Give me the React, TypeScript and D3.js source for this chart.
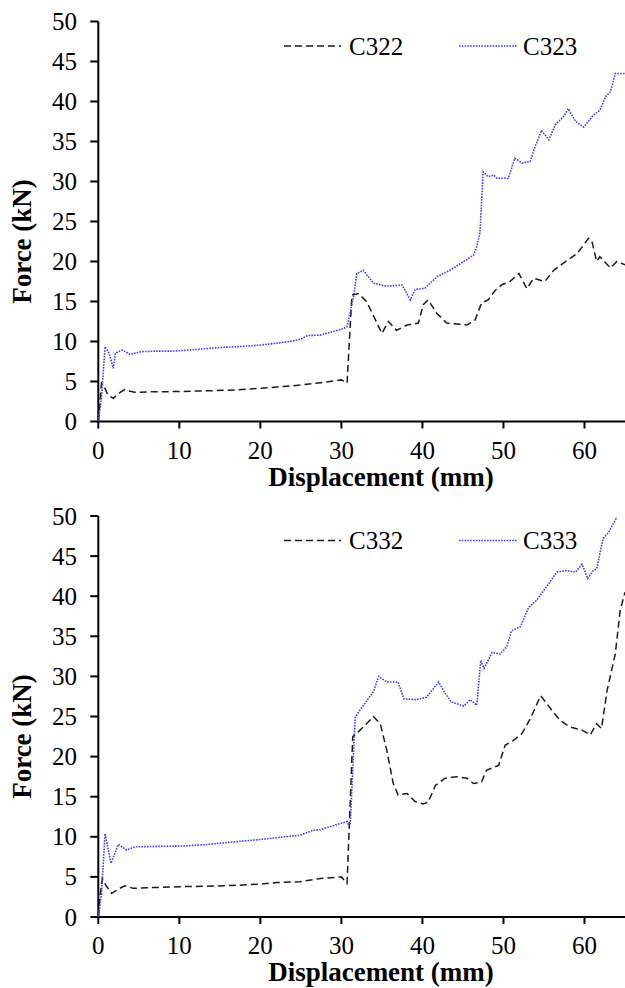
import React from 'react';
import * as d3 from 'd3';

// displacement (mm), force (kN)
const C322: [number, number][] = [
  [0, 0], [0.2, 2.5], [0.4, 4.8], [0.8, 4.2], [1.2, 3.3], [1.85, 2.9], [2.5, 3.5], [3.2, 3.95],
  [4.5, 3.65], [6, 3.7], [8, 3.72], [10, 3.75], [14, 3.85], [17, 3.95], [20, 4.15], [22, 4.3],
  [24.9, 4.55], [27.4, 4.85], [30, 5.2], [30.5, 4.9], [30.7, 4.8], [31.3, 15.8], [32.1, 16.0],
  [33.1, 15.0], [34.4, 12.3], [35, 11.0], [35.8, 12.5], [36.8, 11.4], [38.1, 12.06], [39.5, 12.3],
  [40.1, 14.6], [40.7, 15.2], [41.8, 13.5], [43, 12.3], [44.2, 12.2], [45.5, 12.06], [46.5, 12.7],
  [47.3, 14.8], [48.1, 15.2], [49, 16.4], [49.8, 17.1], [50.8, 17.5], [51.9, 18.5], [52.9, 16.6],
  [53.7, 17.9], [55.1, 17.5], [56.2, 18.9], [57.4, 19.8], [59.1, 21], [60.5, 22.9], [60.9, 22.6],
  [61.5, 20], [61.9, 20.6], [63.2, 19.2], [64, 20], [65, 19.6],
];

const C323: [number, number][] = [
  [0, 0], [0.4, 3], [0.83, 9.35], [1.3, 8.6], [1.85, 6.65], [2.1, 8.55], [2.96, 8.94], [3.9, 8.4],
  [5.35, 8.73], [7, 8.8], [9, 8.8], [10, 8.85], [12, 9.0], [15, 9.25], [18, 9.4], [20, 9.56],
  [22.5, 9.85], [24, 10.06], [25, 10.3], [25.8, 10.75], [27.4, 10.8], [30.2, 11.6], [30.7, 11.85],
  [31.5, 15.6], [31.9, 18.5], [32.7, 18.9], [33.95, 17.3], [35.6, 16.9], [37.5, 17.06], [38.5, 15.2],
  [39.1, 16.5], [40.3, 16.65], [41.8, 18.1], [43.4, 18.9], [45.1, 20], [46.3, 20.8], [46.7, 21.85],
  [47.1, 23.6], [47.5, 31.2], [48.1, 30.6], [48.8, 30.8], [49.2, 30.4], [50.6, 30.4], [51.4, 32.9],
  [52.3, 32.3], [53.3, 32.5], [53.9, 34.35], [54.7, 36.4], [55.6, 35.2], [56.4, 37.1], [57.4, 38.1],
  [58, 39.1], [58.9, 37.5], [59.9, 36.8], [61.1, 38.3], [61.9, 38.9], [62.6, 40.6], [63.2, 41.2],
  [63.8, 43.5], [65, 43.5],
];

const C332: [number, number][] = [
  [0, 0], [0.2, 2.5], [0.5, 4.8], [0.9, 4.0], [1.65, 2.95], [2.5, 3.5], [3.3, 3.9], [4.3, 3.57],
  [6, 3.65], [8, 3.7], [10, 3.78], [14, 3.85], [17, 3.95], [20, 4.1], [22, 4.3], [24.9, 4.4],
  [27.4, 4.8], [30, 5.0], [30.7, 4.2], [31.4, 22.45], [32.3, 23.3], [33.1, 24.1], [33.95, 25.0],
  [34.8, 24.1], [35.6, 20.8], [36.4, 16.65], [37, 15.2], [38.1, 15.4], [39.1, 14.4], [40.1, 14.1],
  [40.7, 14.3], [41.6, 16.4], [42.8, 17.3], [44.2, 17.5], [45.5, 17.3], [46.3, 16.65], [47.3, 16.85],
  [47.9, 18.3], [49.4, 18.9], [50.2, 21.4], [51.2, 22.0], [52.3, 22.9], [53.3, 24.7], [54.6, 27.6],
  [55.8, 26.0], [57, 24.5], [58.2, 23.7], [59.7, 23.3], [60.7, 22.7], [61.5, 24.1], [62.1, 23.5],
  [62.8, 28.3], [63.8, 32.8], [64.4, 38.2], [65, 40.5],
];

const C333: [number, number][] = [
  [0, 0], [0.4, 3], [0.83, 10.4], [1.57, 6.7], [2.47, 9.05], [3.5, 8.35], [4.5, 8.75], [7, 8.8],
  [10, 8.84], [13, 9.0], [16, 9.3], [20, 9.67], [23, 10.0], [24.9, 10.2], [26.5, 10.8], [27.4, 10.9],
  [30.7, 11.9], [30.9, 11.5], [31.1, 11.7], [31.7, 24.9], [32.3, 25.8], [33.3, 27.2], [33.95, 28.1],
  [34.6, 30.0], [35.6, 29.3], [37.0, 29.3], [37.7, 27.2], [39.3, 27.1], [40.5, 27.4], [42, 29.3],
  [42.8, 27.9], [43.6, 26.8], [45.1, 26.3], [45.9, 27.1], [46.7, 26.4], [47.2, 32], [47.6, 31],
  [48.6, 33], [49.6, 32.8], [50.4, 33.7], [51, 35.7], [52.1, 36.2], [53.1, 38.6], [54.1, 39.5],
  [55.4, 41.3], [56.6, 43], [57.8, 43.2], [58.9, 43], [59.7, 44.0], [60.4, 42.2], [61.1, 43.2],
  [61.5, 43.4], [62.3, 47.2], [63, 48], [64, 49.85],
];

const xTicks = [0, 10, 20, 30, 40, 50, 60];
const yTicks = [0, 5, 10, 15, 20, 25, 30, 35, 40, 45, 50];

const FONT = '"Liberation Serif", "Times New Roman", serif';
const BLACK = '#1a1a1a';
const BLUE = '#4040f4';

function Panel({ top, bottom, dashed, dotted, names }: {
  top: number; bottom: number;
  dashed: [number, number][]; dotted: [number, number][];
  names: [string, string];
}) {
  const x = d3.scaleLinear().domain([0, 65]).range([98.3, 625]);
  const y = d3.scaleLinear().domain([0, 50]).range([bottom, top]);
  const line = d3.line<[number, number]>().x(d => x(d[0])).y(d => y(d[1]));
  const x0 = x(0);
  const midY = (top + bottom) / 2 + 20;

  return (
    <g>
      {/* y axis */}
      <line x1={x0} x2={x0} y1={top} y2={bottom} stroke="#000" strokeWidth={2} />
      {yTicks.map(t => (
        <g key={'y' + t}>
          <line x1={x0 - 8} x2={x0} y1={y(t)} y2={y(t)} stroke="#000" strokeWidth={2} />
          <text x={77} y={y(t)} dy="0.34em" textAnchor="end" fontSize={25} fontFamily={FONT}>{t}</text>
        </g>
      ))}
      {/* x axis */}
      <line x1={x0 - 1} x2={625} y1={bottom} y2={bottom} stroke="#000" strokeWidth={2} />
      {xTicks.map(t => (
        <g key={'x' + t}>
          <line x1={x(t)} x2={x(t)} y1={bottom} y2={bottom + 7} stroke="#000" strokeWidth={2} />
          <text x={x(t)} y={bottom + 37} textAnchor="middle" fontSize={25} fontFamily={FONT}>{t}</text>
        </g>
      ))}
      <text x={381} y={bottom + 64} textAnchor="middle" fontSize={27} fontWeight="bold" fontFamily={FONT}>
        Displacement (mm)
      </text>
      <text transform={`translate(31,${midY}) rotate(-90)`} textAnchor="middle" fontSize={27}
        fontWeight="bold" fontFamily={FONT}>Force (kN)</text>

      {/* series */}
      <path d={line(dashed) || ''} fill="none" stroke={BLACK} strokeWidth={1.5} strokeDasharray="7,4" />
      <path d={line(dotted) || ''} fill="none" stroke={BLUE} strokeWidth={1.6} strokeDasharray="1.6,1.2" />

      {/* legend */}
      <line x1={284} x2={341} y1={top + 24.5} y2={top + 24.5} stroke={BLACK} strokeWidth={1.5} strokeDasharray="7,4" />
      <text x={349} y={top + 33} fontSize={25} fontFamily={FONT}>{names[0]}</text>
      <line x1={459} x2={517} y1={top + 24.5} y2={top + 24.5} stroke={BLUE} strokeWidth={1.6} strokeDasharray="1.6,1.2" />
      <text x={523} y={top + 33} fontSize={25} fontFamily={FONT}>{names[1]}</text>
    </g>
  );
}

export default function App() {
  return (
    <svg width={625} height={988} style={{ position: 'absolute', left: 0, top: 0, background: '#fff' }}>
      <rect width={625} height={988} fill="#fff" />
      <Panel top={21.5} bottom={421.5} dashed={C322} dotted={C323} names={['C322', 'C323']} />
      <Panel top={516} bottom={917} dashed={C332} dotted={C333} names={['C332', 'C333']} />
    </svg>
  );
}
